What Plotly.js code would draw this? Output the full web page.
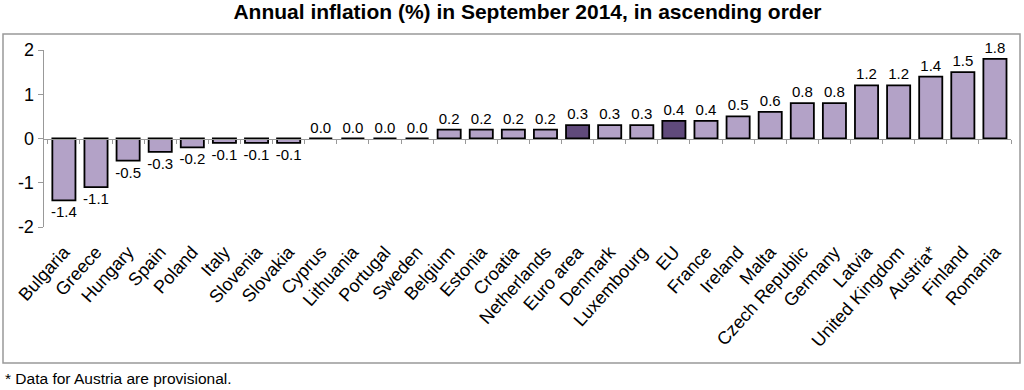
<!DOCTYPE html>
<html><head><meta charset="utf-8">
<script src="https://cdn.plot.ly/plotly-3.0.1.min.js"></script>
<style>html,body{margin:0;padding:0;background:#fff;}#chart{width:1024px;height:390px;}</style>
</head><body><div id="chart"></div>
<script>
const countries = ["Bulgaria","Greece","Hungary","Spain","Poland","Italy","Slovenia","Slovakia","Cyprus","Lithuania","Portugal","Sweden","Belgium","Estonia","Croatia","Netherlands","Euro area","Denmark","Luxembourg","EU","France","Ireland","Malta","Czech Republic","Germany","Latvia","United Kingdom","Austria*","Finland","Romania"];
const inflation = [-1.4,-1.1,-0.5,-0.3,-0.2,-0.1,-0.1,-0.1,0.0,0.0,0.0,0.0,0.2,0.2,0.2,0.2,0.3,0.3,0.3,0.4,0.4,0.5,0.6,0.8,0.8,1.2,1.2,1.4,1.5,1.8];
const aggregates = ["Euro area","EU"];
const yTickVals = [-2,-1,0,1,2];
const yTickText = ["-2","-1","0","1","2"];
const titleText = "Annual inflation (%) in September 2014, in ascending order";
const footnote = "* Data for Austria are provisional.";

const light = "#b3a2c7", dark = "#604a7b";
const colors = countries.map(c => aggregates.includes(c) ? dark : light);
const font = "Arial, 'Liberation Sans', sans-serif";
const n = countries.length;

const data = [{
  type: "bar", x: countries, y: inflation,
  marker: {color: colors, line: {color: "#000", width: 1.8}},
  text: inflation.map(v => v.toFixed(1)), textposition: "outside", constraintext: "none",
  textfont: {family: font, size: 15, color: "#000"},
  cliponaxis: false, hoverinfo: "x+y"
},{
  type: "scatter", x: countries, y: inflation.map(() => 0), xaxis: "x2", yaxis: "y",
  mode: "markers", marker: {opacity: 0}, hoverinfo: "skip", showlegend: false
}];

const layout = {
  width: 1024, height: 390,
  margin: {l: 44, r: 13, t: 50, b: 163},
  paper_bgcolor: "#fff", plot_bgcolor: "#fff",
  showlegend: false, bargap: 0.28,
  title: {text: "<b>" + titleText + "</b>", font: {family: font, size: 21, color: "#000"}, x: 0.5, xref: "paper", y: 0.99, yanchor: "top"},
  xaxis: {type: "category", range: [-0.62, n - 0.5], showline: false, showgrid: false, zeroline: false,
    ticks: "", tickangle: -48, ticklabelstandoff: 10, tickfont: {family: font, size: 18, color: "#000"}, fixedrange: true},
  xaxis2: {type: "category", overlaying: "x", anchor: "free", position: 0.5, range: [-0.62, n - 0.5],
    showline: true, linecolor: "#999", linewidth: 1.5, ticks: "outside", tickson: "boundaries", ticklen: 4,
    tickcolor: "#999", showticklabels: false, showgrid: false, zeroline: false, side: "bottom"},
  yaxis: {range: [-2, 2], tickvals: yTickVals, ticktext: yTickText, showline: true, linecolor: "#999", linewidth: 1.5, ticks: "outside",
    ticklen: 5, tickcolor: "#999", showgrid: false, zeroline: false,
    tickfont: {family: font, size: 18, color: "#000"}, fixedrange: true},
  shapes: [{type: "rect", xref: "paper", yref: "paper",
    x0: (3 - 44) / 967, x1: (1020 - 44) / 967, y0: (227 - 363) / 177, y1: (227 - 34) / 177,
    line: {color: "#999", width: 1.5}, fillcolor: "rgba(0,0,0,0)", layer: "below"}],
  annotations: [{text: footnote, xref: "paper", yref: "paper", x: (3 - 44) / 967, y: (227 - 378) / 177,
    xanchor: "left", yanchor: "middle", showarrow: false, font: {family: font, size: 15.5, color: "#000"}}]
};
Plotly.newPlot("chart", data, layout, {displayModeBar: false, staticPlot: true});
</script></body></html>
